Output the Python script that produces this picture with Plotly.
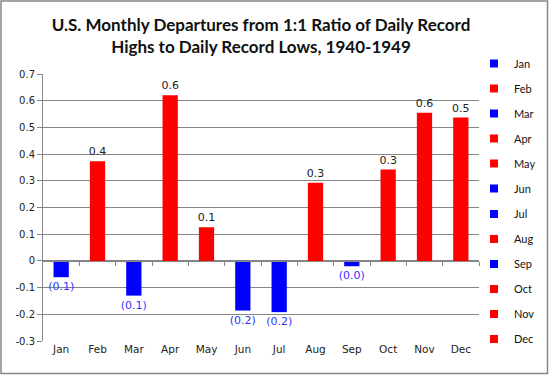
import plotly.graph_objects as go

months = ["Jan", "Feb", "Mar", "Apr", "May", "Jun", "Jul", "Aug", "Sep", "Oct", "Nov", "Dec"]
values = [-0.061, 0.373, -0.13, 0.62, 0.126, -0.186, -0.192, 0.293, -0.02, 0.342, 0.555, 0.537]
labels = ["(0.1)", "0.4", "(0.1)", "0.6", "0.1", "(0.2)", "(0.2)", "0.3", "(0.0)", "0.3", "0.6", "0.5"]
ytick_vals = [-0.3, -0.2, -0.1, 0, 0.1, 0.2, 0.3, 0.4, 0.5, 0.6, 0.7]
ytick_text = ["-0.3", "-0.2", "-0.1", "0", "0.1", "0.2", "0.3", "0.4", "0.5", "0.6", "0.7"]

W, H = 549, 375
L, R, T, B = 43, 70, 74, 34
BLUE, RED = "#0000ff", "#ff0000"

fig = go.Figure()
for i, (m, v, lab) in enumerate(zip(months, values, labels)):
    neg = v < 0
    col = BLUE if neg else RED
    fig.add_trace(go.Bar(
        x=[i], y=[v], name=m, legendgroup=m, showlegend=False,
        marker=dict(color=col, line=dict(width=0)),
        text=[lab], textposition="outside", constraintext="none",
        textfont=dict(family="DejaVu Sans", size=11, color="#3333ff" if neg else "#222222"),
        width=0.42, cliponaxis=False,
    ))
    # legend entry (small square key like the original)
    fig.add_trace(go.Scatter(
        x=[None], y=[None], name=m, legendgroup=m, mode="markers",
        marker=dict(symbol="square", size=8, color=col),
        legend="legend" if i < 6 else "legend2", hoverinfo="skip",
    ))

leg_common = dict(
    xref="container", yref="container", xanchor="left", yanchor="top",
    font=dict(family="Lato", size=11, color="#111111"),
    tracegroupgap=6, bgcolor="rgba(0,0,0,0)", itemwidth=30,
)

fig.update_layout(
    width=W, height=H,
    margin=dict(l=L, r=R, t=T, b=B, autoexpand=False),
    paper_bgcolor="white", plot_bgcolor="white",
    barmode="overlay",
    showlegend=True,
    title=dict(
        text="<b>U.S. Monthly Departures from 1:1 Ratio of Daily Record<br>Highs to Daily Record Lows, 1940-1949</b>",
        x=0.5, xanchor="center", xref="paper", y=1 - 31 / H, yref="container", yanchor="top",
        font=dict(family="Lato", size=17, color="#111111"),
    ),
    font=dict(family="DejaVu Sans", size=10, color="#222222"),
    legend=dict(x=474 / W, y=1 - 49 / H, **leg_common),
    legend2=dict(x=474 / W, y=1 - 199.6 / H, **leg_common),
    xaxis=dict(
        range=[-0.5, 11.5], tickvals=list(range(12)), ticktext=months,
        showgrid=False, zeroline=False, showline=False, ticks="",
        tickfont=dict(family="DejaVu Sans", size=10.5, color="#222222"),
    ),
    xaxis2=dict(
        overlaying="x", anchor="free", position=0.3, side="bottom",
        range=[-0.5, 11.5], tickvals=[k + 0.5 for k in range(12)],
        showticklabels=False, ticks="outside", ticklen=4, tickcolor="#868686",
        showline=True, linecolor="#868686", linewidth=1, showgrid=False, zeroline=False,
    ),
    yaxis=dict(
        range=[-0.3, 0.7], tickvals=ytick_vals, ticktext=ytick_text,
        showgrid=True, gridcolor="#868686", gridwidth=1,
        zeroline=False, showline=True, linecolor="#868686",
        ticks="outside", ticklen=5, tickcolor="#868686",
        tickfont=dict(family="DejaVu Sans", size=10, color="#222222"),
    ),
)
fig.add_trace(go.Scatter(x=[0], y=[0], xaxis="x2", mode="markers",
                         marker=dict(opacity=0), showlegend=False, hoverinfo="skip"))

pw, ph = W - L - R, H - T - B
fig.add_shape(type="rect", xref="paper", yref="paper",
              x0=(-L + 1) / pw, x1=(pw + R - 1.5) / pw,
              y0=(-B + 1.5) / ph, y1=(ph + T - 1) / ph,
              line=dict(color="#868686", width=1.5), fillcolor="rgba(0,0,0,0)", layer="below")

fig.write_html("out.html", config={"displayModeBar": False},
               post_script="document.body.style.margin='0';document.body.style.overflow='hidden';")
